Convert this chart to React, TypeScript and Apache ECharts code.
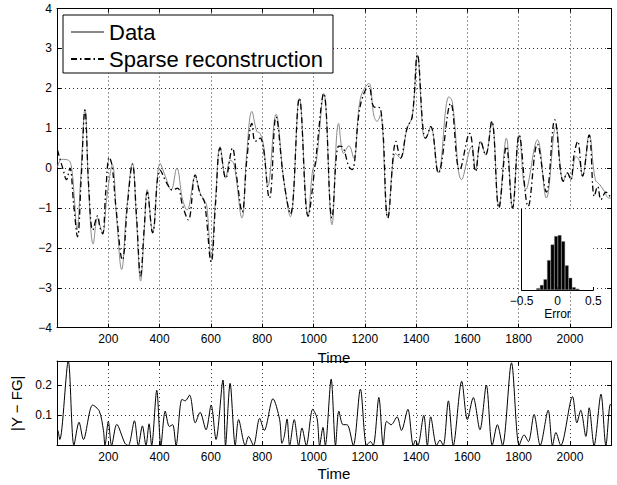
import React, { useEffect, useRef } from "react";
import * as echarts from "echarts";

const X_MIN = 0;
const X_MAX = 2160;
const X_TICK = 200;

const dataSeries: [number, number][] = [
  [2, 0.02], [18, 0.22], [44, 0.2], [57, 0.0], [68, -0.8], [78, -1.55], [92, -0.3], [109, 1.47],
  [124, -0.6], [141, -1.9], [158, -1.25], [168, -1.45], [178, -1.62], [195, -0.7], [216, 0.08],
  [232, -1.2], [252, -2.54], [272, -1.0], [294, 0.12], [310, -1.3], [326, -2.83], [340, -1.6],
  [352, -0.54], [373, -1.62], [402, 0.12], [422, -0.2], [445, -0.55], [467, 0.0], [490, -0.8],
  [507, -1.05], [539, -0.22], [558, -0.62], [574, -0.8], [584, -0.95], [601, -2.25], [618, -0.8],
  [636, 0.54], [658, -0.25], [675, 0.2], [690, 0.1], [721, -1.25], [740, 0.4], [760, 1.42],
  [779, 0.92], [792, 0.87], [806, 0.54], [822, -0.46], [854, 1.35], [884, -0.29], [910, -1.22],
  [945, 1.75], [979, -1.22], [997, -0.04], [1010, 0.12], [1040, 1.87], [1072, -1.42], [1098, 1.12],
  [1118, 0.37], [1138, 0.56], [1157, 0.25], [1183, 1.75], [1216, 2.12], [1235, 1.33], [1248, 1.17],
  [1261, 1.33], [1290, -1.25], [1320, 0.37], [1339, 0.25], [1365, 1.0], [1385, 1.29], [1405, 2.84],
  [1427, 0.87], [1437, 0.75], [1457, 1.04], [1487, -0.12], [1528, 1.79], [1541, 1.67], [1578, -0.29],
  [1617, 0.54], [1632, -0.04], [1652, 0.67], [1671, 0.33], [1695, 1.17], [1723, -0.96], [1752, 0.75],
  [1776, -1.0], [1802, 0.83], [1828, -0.54], [1873, 0.71], [1908, -0.75], [1945, 1.04], [1974, -0.33],
  [1990, -0.12], [2003, -0.29], [2023, 0.29], [2036, 0.2], [2049, -0.2], [2075, 0.83], [2099, -0.29],
  [2117, -0.42], [2134, -0.58], [2151, -0.75], [2160, -0.75],
];

const reconSeries: [number, number][] = [
  [2, 0.45], [24, -0.04], [37, -0.29], [50, 0.0], [65, -0.9], [80, -1.72], [94, -0.3], [109, 1.45],
  [124, -0.5], [140, -1.55], [158, -1.2], [168, -1.5], [178, -1.65], [190, -0.6], [204, 0.27],
  [215, 0.05], [230, -1.0], [255, -2.3], [275, -0.9], [294, 0.1], [310, -1.2], [326, -2.7],
  [340, -1.5], [352, -0.6], [373, -1.62], [402, -0.05], [430, -0.4], [450, -0.55], [470, -0.5],
  [490, -0.95], [512, -1.3], [539, -0.17], [558, -0.65], [575, -0.85], [601, -2.35], [618, -0.9],
  [636, 0.5], [658, -0.25], [684, 0.5], [700, -0.2], [722, -1.1], [740, 0.2], [760, 1.12],
  [773, 0.67], [792, 0.75], [828, -0.75], [854, 1.28], [884, -0.3], [910, -1.15], [945, 1.75],
  [979, -1.2], [1007, 0.12], [1040, 1.87], [1072, -1.25], [1098, 0.55], [1111, 0.54], [1138, 0.04],
  [1150, -0.04], [1183, 1.58], [1216, 2.05], [1235, 1.54], [1261, 1.5], [1290, -1.25], [1322, 0.67],
  [1339, 0.25], [1365, 1.0], [1385, 1.29], [1405, 2.84], [1427, 1.0], [1437, 0.75], [1457, 1.04],
  [1487, -0.12], [1535, 1.62], [1570, -0.05], [1609, 0.87], [1632, -0.08], [1652, 0.67], [1671, 0.33],
  [1695, 1.17], [1723, -1.0], [1752, 0.54], [1776, -1.0], [1802, 0.83], [1837, -0.96], [1873, 0.6],
  [1908, -0.6], [1941, 1.21], [1974, -0.33], [1990, -0.12], [2003, -0.29], [2016, 0.33], [2030, 0.67],
  [2049, -0.2], [2075, 0.83], [2095, -0.71], [2108, -0.46], [2121, -0.79], [2140, -0.6], [2160, -0.75],
];

const errorSeries: [number, number][] = [
  [4, 0.05], [11, 0.02], [44, 0.28], [66, 0], [86, 0.077], [103, 0.02], [139, 0.134], [165, 0.114],
  [181, 0.05], [187, 0], [200, 0.08], [213, 0], [233, 0.07], [265, 0.007], [278, 0], [302, 0.082],
  [317, 0], [333, 0.065], [347, 0], [359, 0.072], [369, 0], [389, 0.183], [405, 0], [422, 0.114],
  [438, 0.063], [451, 0.069], [464, 0], [487, 0.153], [500, 0.148], [517, 0.167], [539, 0.075],
  [558, 0.11], [581, 0.052], [601, 0.134], [620, 0.02], [647, 0.217], [657, 0], [675, 0.206],
  [695, 0], [708, 0.086], [734, 0], [747, 0.03], [766, 0], [790, 0.09], [808, 0.05], [842, 0.155],
  [868, 0.086], [877, 0.007], [886, 0.03], [897, 0.088], [907, 0], [925, 0.086], [942, 0],
  [955, 0.058], [972, 0], [997, 0.12], [1014, 0.09], [1024, 0], [1037, 0.06], [1046, 0],
  [1069, 0.22], [1086, 0], [1099, 0.114], [1115, 0.069], [1131, 0.069], [1155, 0], [1183, 0.187],
  [1207, 0], [1222, 0.013], [1233, 0], [1255, 0.159], [1272, 0], [1285, 0.08], [1303, 0.069],
  [1326, 0.095], [1343, 0.05], [1368, 0.12], [1389, 0], [1398, 0.018], [1407, 0], [1430, 0.1],
  [1444, 0], [1457, 0.095], [1480, 0], [1493, 0.018], [1506, 0], [1526, 0.148], [1545, 0],
  [1578, 0.213], [1600, 0.086], [1623, 0.159], [1649, 0.052], [1674, 0.2], [1697, 0], [1717, 0.069],
  [1737, 0], [1772, 0.274], [1802, 0], [1821, 0.035], [1838, 0.013], [1860, 0.103], [1884, 0],
  [1915, 0.117], [1932, 0], [1945, 0.043], [1964, 0], [2010, 0.162], [2027, 0.075], [2042, 0.117],
  [2062, 0.03], [2075, 0.125], [2094, 0], [2121, 0.17], [2140, 0], [2157, 0.136], [2160, 0.134],
];

const histCenters = [-0.27, -0.22, -0.17, -0.12, -0.07, -0.02, 0.03, 0.08, 0.13, 0.18, 0.23, 0.28];
const histCounts = [7, 20, 43, 120, 183, 217, 221, 196, 99, 49, 11, 5];

const FONT = "'Liberation Sans', Arial, Helvetica, sans-serif";
const minus = (v: number) => String(v).replace("-", "\u2212");
const plain = (v: number) => String(v);
const dotted = { show: true, lineStyle: { color: "#333", type: [1, 3] as number[], width: 1 } };
const blackLine = { show: true, onZero: false, lineStyle: { color: "#000", width: 1 } };
const tickIn = { show: true, inside: true, length: 4, lineStyle: { color: "#000", width: 1 } };
const label12 = { color: "#000", fontSize: 12, fontFamily: FONT };

export default function App() {
  const ref = useRef<HTMLDivElement>(null);
  useEffect(() => {
    if (!ref.current) return;
    const chart = echarts.init(ref.current, undefined, { renderer: "svg" });
    const mainX = (gridIndex: number, nameGap: number) => ({
      type: "value", gridIndex, min: X_MIN, max: X_MAX, interval: X_TICK, position: "bottom",
      axisLine: blackLine, axisTick: tickIn,
      axisLabel: { ...label12, margin: 5, showMinLabel: false, showMaxLabel: false, formatter: plain },
      splitLine: dotted,
      name: "Time", nameLocation: "middle", nameGap,
      nameTextStyle: { color: "#000", fontSize: 15, fontFamily: FONT },
    });
    const topX = (gridIndex: number) => ({
      type: "value", gridIndex, min: X_MIN, max: X_MAX, interval: X_TICK, position: "top",
      axisLine: blackLine, axisTick: tickIn, axisLabel: { show: false }, splitLine: { show: false },
    });
    const rightY = (gridIndex: number, min: number, max: number, interval: number) => ({
      type: "value", gridIndex, min, max, interval, position: "right",
      axisLine: blackLine, axisTick: tickIn, axisLabel: { show: false }, splitLine: { show: false },
    });
    chart.setOption({
      animation: false,
      backgroundColor: "#fff",
      textStyle: { fontFamily: FONT },
      legend: {
        data: ["Data", "Sparse reconstruction"],
        orient: "vertical", left: 63, top: 15,
        padding: [6, 10, 3, 7], itemGap: 5, itemWidth: 33, itemHeight: 12,
        backgroundColor: "#fff", borderColor: "#000", borderWidth: 1, borderRadius: 0,
        itemStyle: { opacity: 0 },
        textStyle: { color: "#000", fontSize: 22, fontFamily: FONT },
      },
      grid: [
        { left: 57, top: 8.5, right: 6, bottom: 157.3 },
        { left: 57, top: 361, right: 6, bottom: 39.5 },
        { left: 521.7, top: 209.3, width: 71.6, height: 80.7, show: true, backgroundColor: "#fff", borderWidth: 0, z: 3 },
      ],
      xAxis: [
        mainX(0, 19),
        topX(0),
        mainX(1, 20),
        topX(1),
        {
          type: "value", gridIndex: 2, min: -0.5, max: 0.5, interval: 0.5, z: 4,
          axisLine: blackLine, axisTick: { show: true, inside: true, length: 3, lineStyle: { color: "#000" } },
          axisLabel: { ...label12, margin: 5, formatter: minus },
          splitLine: { show: false },
          name: "Error", nameLocation: "middle", nameGap: 18,
          nameTextStyle: { color: "#000", fontSize: 12, fontFamily: FONT },
        },
      ],
      yAxis: [
        {
          type: "value", gridIndex: 0, min: -4, max: 4, interval: 1, position: "left",
          axisLine: blackLine, axisTick: tickIn,
          axisLabel: { ...label12, margin: 5, formatter: minus },
          splitLine: dotted,
        },
        rightY(0, -4, 4, 1),
        {
          type: "value", gridIndex: 1, min: 0, max: 0.28, interval: 0.1, position: "left",
          axisLine: blackLine, axisTick: tickIn,
          axisLabel: { ...label12, margin: 5, showMinLabel: false, showMaxLabel: false, formatter: plain },
          splitLine: dotted,
          name: "|Y \u2212 FG|", nameLocation: "middle", nameGap: 27, nameRotate: 90,
          nameTextStyle: { color: "#000", fontSize: 15, fontFamily: FONT },
        },
        rightY(1, 0, 0.28, 0.1),
        {
          type: "value", gridIndex: 2, min: 0, max: 325, z: 4,
          axisLine: blackLine, axisTick: { show: false }, axisLabel: { show: false }, splitLine: { show: false },
        },
      ],
      series: [
        {
          name: "Data", type: "line", xAxisIndex: 0, yAxisIndex: 0, data: dataSeries,
          symbol: "none", smooth: 0.4, lineStyle: { color: "#8a8a8a", width: 1 }, itemStyle: { color: "#8a8a8a" },
        },
        {
          name: "Sparse reconstruction", type: "line", xAxisIndex: 0, yAxisIndex: 0, data: reconSeries,
          symbol: "none", smooth: 0.4, lineStyle: { color: "#000", width: 1.3, type: [6, 3, 1.5, 3] }, itemStyle: { color: "#000" },
        },
        {
          name: "|Y - FG|", type: "line", xAxisIndex: 2, yAxisIndex: 2, data: errorSeries,
          symbol: "none", smooth: 0.3, lineStyle: { color: "#000", width: 1 },
        },
        {
          name: "Error histogram", type: "bar", xAxisIndex: 4, yAxisIndex: 4, z: 5,
          data: histCenters.map((c, i) => [c, histCounts[i]]),
          barWidth: 3.6, itemStyle: { color: "#000", borderColor: "#777", borderWidth: 0.4 },
        },
      ],
    });
    return () => chart.dispose();
  }, []);
  return <div ref={ref} style={{ position: "fixed", left: 0, top: 0, width: 617, height: 485 }} />;
}
